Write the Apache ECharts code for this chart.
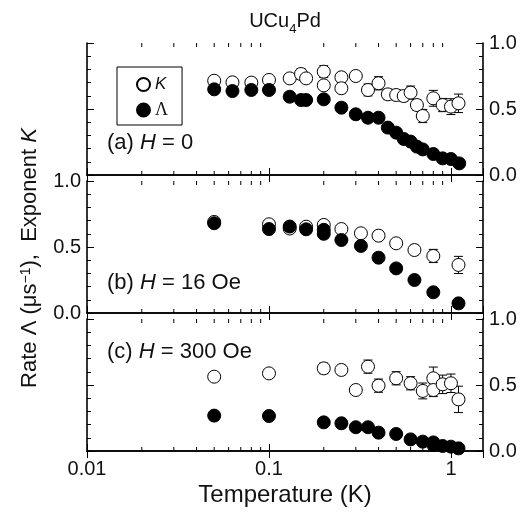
<!DOCTYPE html>
<html><head><meta charset="utf-8">
<script src="https://cdn.jsdelivr.net/npm/echarts@6/dist/echarts.min.js"></script>
<style>html,body{margin:0;padding:0;background:#fff}#c{width:522px;height:514px}</style>
</head><body><div id="c"></div>
<script>
const FONT = '"Liberation Sans", Arial, Helvetica, sans-serif';

// X axis (temperature, K), log scale
const xTickLabels = ['0.01', '0.1', '1'];
const xMinorTicks = [0.02,0.03,0.04,0.05,0.06,0.07,0.08,0.09,0.2,0.3,0.4,0.5,0.6,0.7,0.8,0.9];
const yTickLabels = ['0.0', '0.5', '1.0'];

// Panel (a) H = 0
const aT_K = [0.05,0.063,0.08,0.1,0.13,0.15,0.16,0.2,0.2,0.25,0.25,0.3,0.35,0.4,0.45,0.5,0.55,0.6,0.65,0.7,0.8,0.9,1.0,1.1];
const aK   = [0.714,0.702,0.70,0.72,0.732,0.765,0.732,0.783,0.679,0.740,0.657,0.750,0.644,0.695,0.611,0.606,0.598,0.624,0.530,0.447,0.581,0.530,0.518,0.543];
const aKerr= [0.01,0.01,0.01,0.015,0.015,0.04,0.02,0.045,0.02,0.035,0.02,0.035,0.045,0.05,0.04,0.04,0.04,0.05,0.04,0.05,0.06,0.05,0.06,0.07];
const aT_L = [0.05,0.063,0.08,0.1,0.13,0.15,0.16,0.2,0.25,0.3,0.35,0.4,0.45,0.5,0.55,0.6,0.65,0.7,0.8,0.9,1.0,1.11];
const aL   = [0.649,0.636,0.644,0.644,0.593,0.568,0.568,0.573,0.510,0.460,0.434,0.434,0.359,0.321,0.273,0.253,0.215,0.194,0.159,0.126,0.121,0.088];

// Panel (b) H = 16 Oe
const bT_K = [0.05,0.1,0.13,0.16,0.2,0.25,0.32,0.4,0.5,0.63,0.8,1.1];
const bK   = [0.69,0.672,0.64,0.654,0.667,0.636,0.604,0.586,0.528,0.477,0.432,0.364];
const bKerr= [0.01,0.01,0.01,0.01,0.01,0.015,0.02,0.02,0.03,0.035,0.05,0.065];
const bT_L = [0.05,0.1,0.13,0.16,0.2,0.2,0.25,0.32,0.4,0.5,0.63,0.8,1.1];
const bL   = [0.68,0.636,0.655,0.634,0.63,0.60,0.553,0.508,0.419,0.338,0.25,0.157,0.073];

// Panel (c) H = 300 Oe
const cT_K = [0.05,0.1,0.2,0.25,0.3,0.35,0.4,0.5,0.6,0.7,0.8,0.8,0.9,1.0,1.1];
const cK   = [0.563,0.588,0.626,0.614,0.462,0.639,0.495,0.551,0.513,0.455,0.551,0.462,0.505,0.513,0.391];
const cKerr= [0.01,0.025,0.04,0.035,0.03,0.05,0.05,0.05,0.05,0.06,0.085,0.05,0.07,0.07,0.1];
const cT_L = [0.05,0.1,0.2,0.25,0.3,0.35,0.4,0.5,0.6,0.7,0.8,0.8,0.9,1.0,1.1];
const cL   = [0.268,0.265,0.217,0.210,0.180,0.180,0.139,0.129,0.088,0.071,0.065,0.045,0.038,0.033,0.02];

const panels = [
  {TK: aT_K, K: aK, Kerr: aKerr, TL: aT_L, L: aL, label: '(a) {i|H} = 0', ly: 143, yLabelSide: 'right'},
  {TK: bT_K, K: bK, Kerr: bKerr, TL: bT_L, L: bL, label: '(b) {i|H} = 16 Oe', ly: 283, yLabelSide: 'left'},
  {TK: cT_K, K: cK, Kerr: cKerr, TL: cT_L, L: cL, label: '(c) {i|H} = 300 Oe', ly: 352, yLabelSide: 'right'}
];
const gridTops = [43, 181, 319];
const GL = 87, GW = 396, GH = 132;

function fmtX(v) {
  for (const s of xTickLabels) if (Math.abs(Math.log10(Number(s)) - Math.log10(v)) < 1e-6) return s;
  return '';
}
function fmtY(v) {
  for (const s of yTickLabels) if (Math.abs(Number(s) - v) < 1e-6) return s;
  return '';
}

const grid = [], xAxis = [], yAxis = [], series = [];
const axisLine = {show: true, lineStyle: {color: '#000', width: 1.6}};
panels.forEach((p, i) => {
  grid.push({left: GL, top: gridTops[i], width: GW, height: GH});
  const isLast = i === 2;
  ['bottom', 'top'].forEach(pos => {
    xAxis.push({
      type: 'log', logBase: 10, min: 0.01, max: 1.5, interval: 1, gridIndex: i, position: pos,
      axisLine, splitLine: {show: false},
      axisTick: {show: true, inside: true, length: 7, lineStyle: {color: '#000', width: 1}},
      axisLabel: {show: isLast && pos === 'bottom', showMaxLabel: false, margin: 8, fontFamily: FONT, fontSize: 20, color: '#111', formatter: fmtX}
    });
  });
  ['left', 'right'].forEach(pos => {
    yAxis.push({
      type: 'value', min: 0, max: 1, interval: 0.5, gridIndex: i, position: pos,
      axisLine, splitLine: {show: false},
      axisTick: {show: true, inside: true, length: 7, lineStyle: {color: '#000', width: 1}},
      minorTick: {show: true, splitNumber: 5, length: 4, lineStyle: {color: '#000', width: 1}},
      axisLabel: {show: pos === p.yLabelSide, margin: 6, fontFamily: FONT, fontSize: 20, color: '#111', formatter: fmtY}
    });
  });
  const xi = 2 * i, yi = 2 * i;
  // minor log ticks (2..9 per decade) on top and bottom edges
  series.push({
    type: 'custom', xAxisIndex: xi, yAxisIndex: yi, silent: true, z: 1,
    data: xMinorTicks.map(v => [v, 0]),
    renderItem: (params, api) => {
      const v = api.value(0);
      const b = api.coord([v, 0]), t = api.coord([v, 1]);
      return {type: 'group', children: [
        {type: 'line', shape: {x1: b[0], y1: b[1], x2: b[0], y2: b[1] - 4}, style: {stroke: '#000', lineWidth: 1}},
        {type: 'line', shape: {x1: t[0], y1: t[1], x2: t[0], y2: t[1] + 4}, style: {stroke: '#000', lineWidth: 1}}
      ]};
    }
  });
  // error bars for K
  series.push({
    type: 'custom', xAxisIndex: xi, yAxisIndex: yi, silent: true, z: 2,
    data: p.TK.map((t, j) => [t, p.K[j], p.Kerr[j]]),
    renderItem: (params, api) => {
      const x = api.value(0), y = api.value(1), e = api.value(2);
      const lo = api.coord([x, y - e]), hi = api.coord([x, y + e]);
      const w = 4.5, st = {stroke: '#000', lineWidth: 1};
      return {type: 'group', children: [
        {type: 'line', shape: {x1: lo[0], y1: lo[1], x2: hi[0], y2: hi[1]}, style: st},
        {type: 'line', shape: {x1: lo[0] - w, y1: lo[1], x2: lo[0] + w, y2: lo[1]}, style: st},
        {type: 'line', shape: {x1: hi[0] - w, y1: hi[1], x2: hi[0] + w, y2: hi[1]}, style: st}
      ]};
    }
  });
  series.push({
    name: i === 0 ? 'K' : 'K' + i, type: 'scatter', xAxisIndex: xi, yAxisIndex: yi, z: 3,
    symbol: 'circle', symbolSize: 13,
    itemStyle: {color: '#fff', borderColor: '#000', borderWidth: 1, opacity: 1},
    data: p.TK.map((t, j) => [t, p.K[j]])
  });
  series.push({
    name: i === 0 ? 'Λ' : 'Λ' + i, type: 'scatter', xAxisIndex: xi, yAxisIndex: yi, z: 4,
    symbol: 'circle', symbolSize: 13,
    itemStyle: {color: '#000', borderColor: '#000', borderWidth: 1, opacity: 1},
    data: p.TL.map((t, j) => [t, p.L[j]])
  });
});

const graphic = [
  {type: 'text', x: 285, y: 22, style: {
    text: '{m|UCu}{sub|4}{m|Pd}', fontFamily: FONT, fontSize: 20, fill: '#111', align: 'center', verticalAlign: 'middle',
    rich: {
      m: {fontFamily: FONT, fontSize: 20, fill: '#111', verticalAlign: 'top', lineHeight: 22},
      sub: {fontFamily: FONT, fontSize: 13, fill: '#111', verticalAlign: 'top', lineHeight: 13, padding: [12, 0, 0, 0]}
    }
  }},
  {type: 'text', x: 30, y: 258, rotation: Math.PI / 2, style: {
    text: 'Rate Λ (μs{sup|−1}),  Exponent {i|K}', fontFamily: FONT, fontSize: 22, fill: '#111',
    align: 'center', verticalAlign: 'middle',
    rich: {
      sup: {fontFamily: FONT, fontSize: 14, verticalAlign: 'top', fill: '#111'},
      i: {fontFamily: FONT, fontSize: 22, fontStyle: 'italic', fill: '#111'}
    }
  }},
  {type: 'text', x: 285, y: 495, style: {
    text: 'Temperature (K)', fontFamily: FONT, fontSize: 24, fill: '#111', align: 'center', verticalAlign: 'middle'
  }}
];
panels.forEach(p => {
  graphic.push({type: 'text', x: 107, y: p.ly, style: {
    text: p.label, fontFamily: FONT, fontSize: 22, fill: '#111', verticalAlign: 'middle',
    rich: {i: {fontFamily: FONT, fontSize: 22, fontStyle: 'italic', fill: '#111'}}
  }});
});

const chart = echarts.init(document.getElementById('c'), null, {renderer: 'canvas'});
chart.setOption({
  animation: false,
  backgroundColor: '#fff',
  grid, xAxis, yAxis, series, graphic,
  legend: {
    data: ['K', 'Λ'], orient: 'vertical', left: 117, top: 67, selectedMode: false,
    itemWidth: 13, itemHeight: 13, itemGap: 8, padding: [9, 14, 6, 19],
    borderColor: '#000', borderWidth: 1, icon: 'circle',
    formatter: n => n === 'K' ? '{i|K}' : '{n|Λ}',
    textStyle: {rich: {
      i: {fontFamily: FONT, fontSize: 17, fontStyle: 'italic', color: '#111'},
      n: {fontFamily: '"Liberation Serif", "DejaVu Serif", serif', fontSize: 18, color: '#111'}
    }}
  }
});
</script></body></html>
